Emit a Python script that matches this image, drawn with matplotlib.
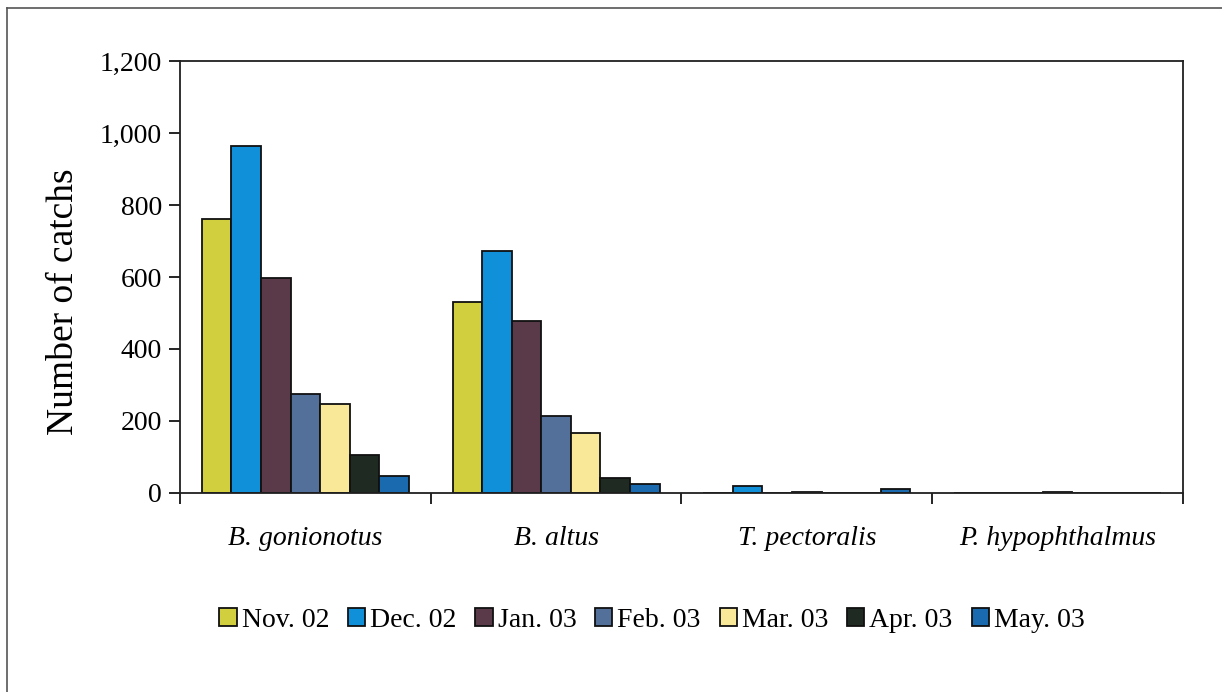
import numpy as np
import matplotlib.pyplot as plt
from matplotlib.ticker import FuncFormatter, FixedLocator
from matplotlib.lines import Line2D

# Datos
species = ['B. gonionotus', 'B. altus', 'T. pectoralis', 'P. hypophthalmus']
months = ['Nov. 02', 'Dec. 02', 'Jan. 03', 'Feb. 03', 'Mar. 03', 'Apr. 03', 'May. 03']

nov02 = [761, 531, 0, 0]
dec02 = [964, 672, 20, 1]
jan03 = [596, 478, 0, 0]
feb03 = [275, 215, 3, 3]
mar03 = [247, 166, 0, 0]
apr03 = [106, 41, 0, 0]
may03 = [47, 24, 11, 0]

series = [nov02, dec02, jan03, feb03, mar03, apr03, may03]
colors = ['#d2cf3f', '#1090d8', '#5a3a48', '#52709a', '#f8e898', '#1e2a22', '#1a6ab0']

plt.rcParams['font.family'] = ['Liberation Serif', 'DejaVu Serif']

fig = plt.figure(figsize=(12.22, 6.92), dpi=100)
ax = fig.add_axes([0.1473, 0.2876, 0.8207, 0.6242])

x = np.arange(len(species))
width = 0.118
n = len(series)
for i, (vals, c, m) in enumerate(zip(series, colors, months)):
    offs = (i - (n - 1) / 2) * width
    ax.bar(x + offs, vals, width, color=c, edgecolor='#101010', linewidth=1.3, label=m)

ax.set_xlim(-0.5, 3.5)
ax.set_ylim(0, 1200)
ax.set_yticks(np.arange(0, 1201, 200))
ax.yaxis.set_major_formatter(FuncFormatter(lambda v, p: f'{int(v):,}'))
ax.tick_params(axis='y', labelsize=20, length=8, width=1.2, direction='out', pad=5)

ax.set_xticks(x)
ax.set_xticklabels(species, fontstyle='italic', fontsize=20)
ax.tick_params(axis='x', which='major', length=0, pad=24)
ax.xaxis.set_minor_locator(FixedLocator([-0.5, 0.5, 1.5, 2.5, 3.5]))
ax.tick_params(axis='x', which='minor', length=8, width=1.2, direction='out')

for s in ax.spines.values():
    s.set_linewidth(1.3)
    s.set_color('#202020')

ax.set_ylabel('Number of catchs', fontsize=27)
ax.yaxis.set_label_coords(-0.0985, 0.442)

leg = fig.legend(loc='center', bbox_to_anchor=(0.5335, 0.104), ncol=7, frameon=False,
                 fontsize=20, handlelength=0.62, handleheight=0.62, handletextpad=0.18,
                 columnspacing=0.68)

# Marco exterior (solo borde superior e izquierdo visibles)
fig.add_artist(Line2D([0.006, 1.0], [0.988, 0.988], transform=fig.transFigure,
                      color='#555555', linewidth=1.2))
fig.add_artist(Line2D([0.006, 0.006], [0.0, 0.988], transform=fig.transFigure,
                      color='#555555', linewidth=1.2))

fig.savefig('out.png', dpi=100)
